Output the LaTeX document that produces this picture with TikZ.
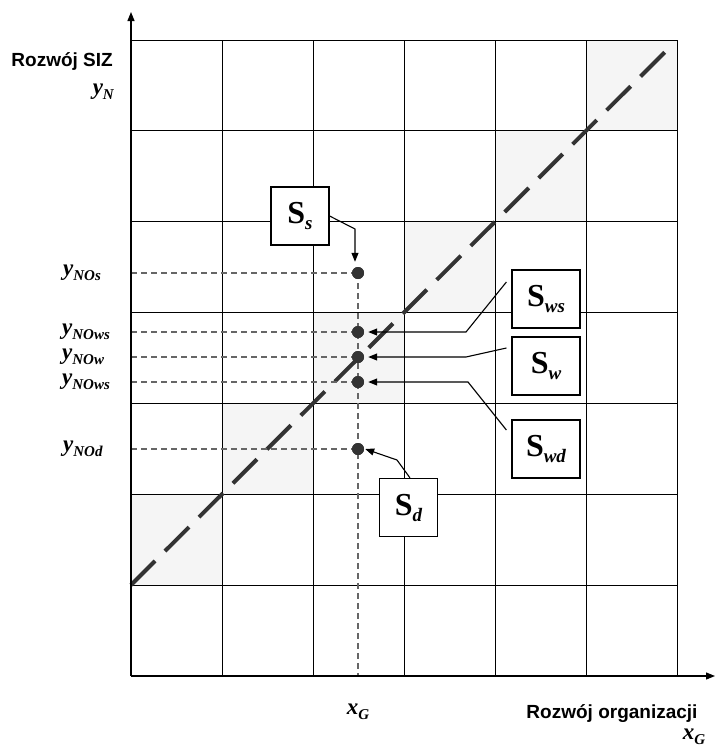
\documentclass[tikz,border=0pt]{standalone}
\usepackage{fontspec}
\setmainfont{Liberation Serif}
\setsansfont{Liberation Sans}
\usetikzlibrary{arrows.meta}
\newcommand\myYlab[2]{{\fontsize{23}{23}\selectfont\bfseries\itshape #1}\raisebox{-5pt}{\fontsize{15}{15}\selectfont\bfseries\itshape #2}}
\newcommand\mySsub[1]{{\fontsize{32}{32}\selectfont\bfseries S}\raisebox{-6pt}{\fontsize{19}{19}\selectfont\bfseries\itshape #1}}
\begin{document}
\begin{tikzpicture}[x=1pt,y=-1pt,
  gridline/.style={line width=1pt, black},
  shadecell/.style={fill=black!4},
  diag/.style={line width=4pt, color=black!80, dash pattern=on 34pt off 14pt},
  helper/.style={line width=1.3pt, color=black!60, dash pattern=on 6pt off 4pt},
  dot/.style={circle, fill=black!80, inner sep=0pt, minimum size=12pt},
  sbox/.style={draw, line width=1.2pt, fill=white, minimum height=58pt, inner sep=0pt},
  conn/.style={line width=1.1pt, -{Triangle[length=9pt,width=7pt]}},
  axis/.style={line width=1.2pt, -{Triangle[length=9pt,width=7pt]}},
  axlabel/.style={font=\fontsize{19}{19}\selectfont\sffamily\bfseries, inner sep=0pt},
  ylab/.style={inner sep=0pt, anchor=west}
]
\useasboundingbox (0,0) rectangle (715,747);
% shaded cells along the diagonal
\foreach \i in {0,...,5}{
  \fill[shadecell] ({131+91*\i},{40+90.857*(5-\i)}) rectangle ({131+91*(\i+1)},{40+90.857*(6-\i)});
}
% grid
\foreach \i in {0,...,6}{
  \draw[gridline] ({131+91*\i},40) -- ({131+91*\i},676);
}
\foreach \j in {0,...,7}{
  \draw[gridline] (131,{40+90.857*\j}) -- (677,{40+90.857*\j});
}
% diagonal
\coordinate (dstart) at (131,585);
\coordinate (dend) at (670,47);
\draw[diag] (dstart) -- (dend);
% dots
\node[dot] (dOs) at (358,273) {};
\node[dot] (dOwsA) at (358,332) {};
\node[dot] (dOw) at (358,357) {};
\node[dot] (dOwsB) at (358,382) {};
\node[dot] (dOd) at (358,449) {};
\coordinate (xbot) at (358,676);
\coordinate (aOs) at (131,273);
\coordinate (aOwsA) at (131,332);
\coordinate (aOw) at (131,357);
\coordinate (aOwsB) at (131,382);
\coordinate (aOd) at (131,449);
\draw[helper] (aOs) -- (dOs.center);
\draw[helper] (aOwsA) -- (dOwsA.center);
\draw[helper] (aOw) -- (dOw.center);
\draw[helper] (aOwsB) -- (dOwsB.center);
\draw[helper] (aOd) -- (dOd.center);
\draw[helper] (dOs.center) -- (xbot);
\foreach \n in {dOs,dOwsA,dOw,dOwsB,dOd}{\fill[black!80] (\n) circle (6pt);}
% boxes
\node[sbox, minimum width=58pt] (Ss) at (300,216) {\mySsub{s}};
\node[sbox, minimum width=68pt] (Sws) at (546,299) {\mySsub{ws}};
\node[sbox, minimum width=68pt] (Sw) at (546,366) {\mySsub{w}};
\node[sbox, minimum width=68pt] (Swd) at (546,449) {\mySsub{wd}};
\node[sbox, minimum width=58pt] (Sd) at (408.5,507.5) {\mySsub{d}};
% connectors
\coordinate (sbend) at (355,229);
\path ([yshift=5pt]dOs.north) coordinate (sOsTop);
\draw[conn] (Ss.east) -- (sbend) -- (sOsTop -| sbend);
\draw[conn] ([shift={(-5pt,17pt)}]Sws.west) -- (466,332) -- ([xshift=4pt]dOwsA.east);
\draw[conn] ([shift={(-5pt,18pt)}]Sw.west) -- (466,357) -- ([xshift=4pt]dOw.east);
\draw[conn] ([shift={(-5pt,19pt)}]Swd.west) -- (468,382) -- ([xshift=4pt]dOwsB.east);
\draw[conn] ([xshift=1.5pt]Sd.north) -- (397,460) -- ([xshift=1pt]dOd.east);
% axes
\coordinate (origin) at (131,676);
\coordinate (ytop) at (131,12);
\coordinate (xright) at (715,676);
\draw[axis] (origin) -- (ytop);
\draw[axis] (origin) -- (xright);
% labels
\node[axlabel, anchor=base east] (ly) at (113,66) {Rozwój SIZ};
\node[inner sep=0pt, anchor=east] (yN) at (114,92) {\myYlab{y}{N}};
\node[ylab] (lOs) at (63,273) {\myYlab{y}{NOs}};
\node[ylab] (lOwsA) at (62,332) {\myYlab{y}{NOws}};
\node[ylab] (lOw) at (62,357) {\myYlab{y}{NOw}};
\node[ylab] (lOwsB) at (62,382) {\myYlab{y}{NOws}};
\node[ylab] (lOd) at (63,449) {\myYlab{y}{NOd}};
\node[inner sep=0pt] (xG) at (358,712) {\myYlab{x}{G}};
\node[axlabel, anchor=base] (lx) at (612,718) {Rozwój organizacji};
\node[inner sep=0pt] (xG2) at (694,737) {\myYlab{x}{G}};
\end{tikzpicture}
\end{document}
